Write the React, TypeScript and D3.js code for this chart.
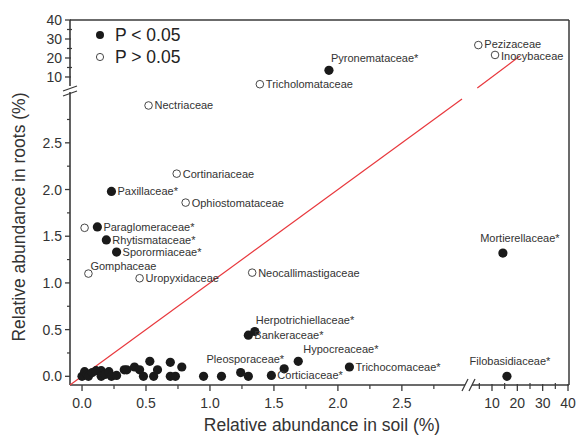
import * as d3 from "d3";

// labelled families: soil %, roots %, significant (P < 0.05)
const names = [
  "Pyronemataceae*", "Tricholomataceae", "Pezizaceae", "Inocybaceae", "Nectriaceae",
  "Cortinariaceae", "Paxillaceae*", "Ophiostomataceae", "Paraglomeraceae*", "Rhytismataceae*",
  "Sporormiaceae*", "Gomphaceae", "Uropyxidaceae", "Neocallimastigaceae", "Mortierellaceae*",
  "Herpotrichiellaceae*", "Bankeraceae*", "Hypocreaceae*", "Pleosporaceae*", "Corticiaceae*",
  "Trichocomaceae*", "Filobasidiaceae*",
];
const soil = [1.93, 1.39, 4.6, 11.2, 0.52, 0.74, 0.23, 0.81, 0.12, 0.19, 0.27, 0.05, 0.45, 1.33, 14.3, 1.35, 1.3, 1.69, 1.58, 1.48, 2.09, 15.9];
const roots = [13.5, 6.2, 26.8, 21.6, 2.9, 2.17, 1.98, 1.86, 1.6, 1.46, 1.33, 1.1, 1.05, 1.11, 1.32, 0.48, 0.44, 0.16, 0.08, 0.01, 0.1, 0.0];
const significant = [true, false, false, false, false, false, true, false, true, true, true, false, false, false, true, true, true, true, true, true, true, true];

// unlabelled open point near the y axis
const extraOpenSoil = [0.02];
const extraOpenRoots = [1.59];

// unlabelled significant families near zero
const smallSoil = [0, 0.02, 0.04, 0.05, 0.08, 0.11, 0.15, 0.15, 0.18, 0.21, 0.23, 0.27, 0.33, 0.35, 0.41, 0.45, 0.48, 0.53, 0.56, 0.59, 0.69, 0.69, 0.73, 0.78, 0.95, 1.09, 1.24, 1.3];
const smallRoots = [0, 0.05, 0.02, 0, 0.04, 0.06, 0.06, 0, 0.02, 0.05, 0, 0.01, 0.07, 0.07, 0.1, 0.07, 0, 0.16, 0, 0.07, 0.15, 0, 0, 0.1, 0, 0, 0.04, 0];

const yLoMajor = [0, 0.5, 1, 1.5, 2, 2.5];
const yLoMinor = [0.25, 0.75, 1.25, 1.75, 2.25, 2.75];
const hiMajor = [10, 20, 30, 40];
const yHiMinor = [15, 25, 35];
const xLoMajor = [0, 0.5, 1, 1.5, 2, 2.5];
const xLoMinor = [0.25, 0.75, 1.25, 1.75, 2.25, 2.75];
const xHiMinor = [5, 15, 25, 35];

// label placement: dx, dy (baseline), anchor
const place: Record<string, [number, number, string]> = {
  "Pyronemataceae*": [2, -8, "start"],
  "Pezizaceae": [6, 3, "start"],
  "Inocybaceae": [6, 5, "start"],
  "Gomphaceae": [2, -4, "start"],
  "Mortierellaceae*": [17, -11, "middle"],
  "Herpotrichiellaceae*": [1, -7, "start"],
  "Hypocreaceae*": [5, -8, "start"],
  "Pleosporaceae*": [0, -6, "end"],
  "Filobasidiaceae*": [3, -11, "middle"],
};

const W = 579, H = 436;
const L = 70, R = 569, T = 20, B = 385;
const X_BREAK = 3.5;
const Y_BREAK = 3.5;

const xLo = d3.scaleLinear().domain([-0.094, 2.97]).range([L, 462]);
const xHi = d3.scaleLinear().domain([4.08, 40]).range([477, 568]);
const yLo = d3.scaleLinear().domain([-0.093, 3.07]).range([B, 89.6]);
const yHi = d3.scaleLinear().domain([4.2, 40]).range([88, T]);
const sx = (v: number) => (v < X_BREAK ? xLo(v) : xHi(v));
const sy = (v: number) => (v < Y_BREAK ? yLo(v) : yHi(v));

const font = "'Liberation Sans', Arial, sans-serif";
const axisColor = "#3a3a3a";

export default function App() {
  const fmt = d3.format(".1f");
  return (
    <svg width={W} height={H} style={{ display: "block", position: "absolute", left: 0, top: 0 }} fontFamily={font}>
      <rect width={W} height={H} fill="#fff" />
      {/* frame */}
      <line x1={L} x2={R} y1={T} y2={T} stroke={axisColor} strokeWidth={1.5} />
      <line x1={R} x2={R} y1={T} y2={B} stroke={axisColor} strokeWidth={1.5} />
      {/* left axis, broken */}
      <line x1={L} x2={L} y1={B} y2={92} stroke={axisColor} strokeWidth={1.6} />
      <line x1={L} x2={L} y1={86} y2={T} stroke={axisColor} strokeWidth={1.6} />
      <line x1={L - 7} x2={L + 7} y1={91} y2={86} stroke={axisColor} strokeWidth={1.3} />
      <line x1={L - 7} x2={L + 7} y1={96} y2={91} stroke={axisColor} strokeWidth={1.3} />
      {/* bottom axis, broken */}
      <line x1={L} x2={465} y1={B} y2={B} stroke={axisColor} strokeWidth={1.6} />
      <line x1={472} x2={R} y1={B} y2={B} stroke={axisColor} strokeWidth={1.6} />
      <line x1={462} x2={468} y1={391} y2={379} stroke={axisColor} strokeWidth={1.3} />
      <line x1={469} x2={475} y1={391} y2={379} stroke={axisColor} strokeWidth={1.3} />

      {/* y ticks */}
      {yLoMajor.map((v) => (
        <g key={"yl" + v}>
          <line x1={L - 5} x2={L} y1={yLo(v)} y2={yLo(v)} stroke={axisColor} strokeWidth={1.3} />
          <text x={L - 8} y={yLo(v) + 5} textAnchor="end" fontSize={14} fill="#333">{fmt(v)}</text>
        </g>
      ))}
      {yLoMinor.map((v) => (
        <line key={"ylm" + v} x1={L - 3} x2={L} y1={yLo(v)} y2={yLo(v)} stroke={axisColor} strokeWidth={1.2} />
      ))}
      {hiMajor.map((v) => (
        <g key={"yh" + v}>
          <line x1={L - 5} x2={L + 1} y1={yHi(v)} y2={yHi(v)} stroke={axisColor} strokeWidth={1.3} />
          <text x={L - 8} y={yHi(v) + 5} textAnchor="end" fontSize={14} fill="#333">{v}</text>
        </g>
      ))}
      {yHiMinor.map((v) => (
        <line key={"yhm" + v} x1={L - 3} x2={L + 2} y1={yHi(v)} y2={yHi(v)} stroke={axisColor} strokeWidth={1.2} />
      ))}

      {/* x ticks */}
      {xLoMajor.map((v) => (
        <g key={"xl" + v}>
          <line x1={xLo(v)} x2={xLo(v)} y1={B} y2={B + 6} stroke={axisColor} strokeWidth={1.3} />
          <text x={xLo(v)} y={B + 23} textAnchor="middle" fontSize={14} fill="#333">{fmt(v)}</text>
        </g>
      ))}
      {xLoMinor.map((v) => (
        <line key={"xlm" + v} x1={xLo(v)} x2={xLo(v)} y1={B} y2={B + 4} stroke={axisColor} strokeWidth={1.2} />
      ))}
      {hiMajor.map((v) => (
        <g key={"xh" + v}>
          <line x1={xHi(v)} x2={xHi(v)} y1={B - 1} y2={B + 6} stroke={axisColor} strokeWidth={1.3} />
          <text x={xHi(v)} y={B + 23} textAnchor="middle" fontSize={14} fill="#333">{v}</text>
        </g>
      ))}
      {xHiMinor.map((v) => (
        <line key={"xhm" + v} x1={xHi(v)} x2={xHi(v)} y1={B - 2} y2={B + 4} stroke={axisColor} strokeWidth={1.2} />
      ))}

      {/* axis titles */}
      <text x={322} y={431} textAnchor="middle" fontSize={17.5} fill="#333">Relative abundance in soil (%)</text>
      <text transform={`translate(25,217) rotate(-90)`} textAnchor="middle" fontSize={17.5} fill="#333">Relative abundance in roots (%)</text>

      {/* 1:1 line */}
      <line x1={xLo(-0.094)} y1={yLo(-0.094)} x2={xLo(2.97)} y2={yLo(2.97)} stroke="#e8383d" strokeWidth={1.2} />
      <line x1={xHi(4.2)} y1={yHi(4.2)} x2={xHi(21)} y2={yHi(21)} stroke="#e8383d" strokeWidth={1.2} />

      {/* unlabelled points */}
      {smallSoil.map((s, i) => (
        <circle key={"s" + i} cx={sx(s)} cy={sy(smallRoots[i])} r={4.6} fill="#1a1a1a" />
      ))}
      {extraOpenSoil.map((s, i) => (
        <circle key={"eo" + i} cx={sx(s)} cy={sy(extraOpenRoots[i])} r={3.8} fill="#fff" stroke="#333" strokeWidth={0.9} />
      ))}

      {/* labelled points */}
      {names.map((n, i) => {
        const cx = sx(soil[i]);
        const cy = sy(roots[i]);
        const p = place[n] || [6, 4, "start"];
        return (
          <g key={n}>
            {significant[i] ? (
              <circle cx={cx} cy={cy} r={4.6} fill="#1a1a1a" />
            ) : (
              <circle cx={cx} cy={cy} r={3.8} fill="#fff" stroke="#333" strokeWidth={0.9} />
            )}
            <text x={cx + p[0]} y={cy + p[1]} textAnchor={p[2] as any} fontSize={11} fill="#333">{n}</text>
          </g>
        );
      })}

      {/* legend */}
      <circle cx={100} cy={35} r={4} fill="#1a1a1a" />
      <text x={115} y={41} fontSize={17.5} fill="#222">P &lt; 0.05</text>
      <circle cx={100} cy={57} r={3.6} fill="#fff" stroke="#333" strokeWidth={0.9} />
      <text x={115} y={63} fontSize={17.5} fill="#222">P &gt; 0.05</text>
    </svg>
  );
}
